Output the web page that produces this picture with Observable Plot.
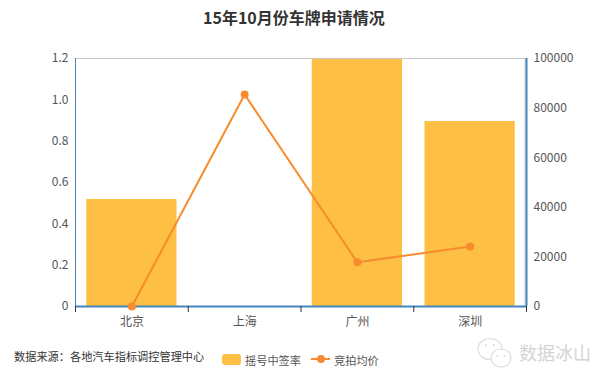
<!DOCTYPE html>
<html><head><meta charset="utf-8">
<script src="https://cdn.jsdelivr.net/npm/d3@7"></script>
<script src="https://cdn.jsdelivr.net/npm/@observablehq/plot@0.6"></script>
<style>
html,body{margin:0;padding:0;background:#fff;width:600px;height:375px;overflow:hidden;font-family:"Noto Sans CJK SC","Noto Sans",sans-serif}
#wrap{position:relative;width:600px;height:375px}
#title{position:absolute;left:203px;top:5px;white-space:nowrap;font-size:16px;line-height:24px;font-weight:700;color:#333}
#chart{position:absolute;left:0;top:40px}
#chart svg{display:block}
.t{position:absolute;white-space:nowrap}
</style></head><body>
<div id="wrap">
<div id="title">15年10月份车牌申请情况</div>
<div id="chart"></div>
<div class="t" style="left:14px;top:348px;font-size:11.2px;line-height:16px;color:#333">数据来源：各地汽车指标调控管理中心</div>
<div class="t" style="left:222px;top:354px;width:19px;height:11px;background:#fdbf44;border-radius:3px"></div>
<div class="t" style="left:245px;top:352px;font-size:11.2px;line-height:16px;color:#555">摇号中签率</div>
<div class="t" style="left:311px;top:358px;width:19px;height:2px;background:#f78b2d"></div>
<div class="t" style="left:316.5px;top:355px;width:8px;height:8px;border-radius:50%;background:#f78b2d"></div>
<div class="t" style="left:334px;top:352px;font-size:11.2px;line-height:16px;color:#555">竞拍均价</div>
<svg class="t" style="left:476px;top:335px" width="40" height="36" viewBox="0 0 40 36">
<ellipse cx="14" cy="14" rx="12" ry="10.5" fill="#fff" stroke="#ddd" stroke-width="1.2"/>
<ellipse cx="25" cy="23" rx="10" ry="9" fill="#fff" stroke="#ddd" stroke-width="1.2"/>
<circle cx="10" cy="10" r="1.1" fill="#ddd"/><circle cx="18" cy="10" r="1.1" fill="#ddd"/>
<circle cx="21.5" cy="21" r="1.1" fill="#ddd"/><circle cx="28.5" cy="21" r="1.1" fill="#ddd"/>
</svg>
<div class="t" style="left:519px;top:340px;font-size:18px;line-height:24px;color:#d4d4d4">数据冰山</div>
</div>
<script>
const categories = ["北京", "上海", "广州", "深圳"];
const lotteryRate = [0.518, 0, 1.195, 0.895];
const avgPrice = [0, 85500, 17800, 24200];
const leftTicks = [0, 0.2, 0.4, 0.6, 0.8, 1.0, 1.2];
const rightTicks = [0, 20000, 40000, 60000, 80000, 100000];

const priceMax = 100000, rateMax = 1.2;
const toRate = p => p / priceMax * rateMax;
const rows = categories.map((c, i) => ({c, rate: lotteryRate[i], price: avgPrice[i]}));
const font = '"Noto Sans CJK SC","Noto Sans",sans-serif';
const step = (526 - 75) / categories.length;

const plot = Plot.plot({
  width: 600, height: 305,
  marginTop: 18, marginBottom: 39, marginLeft: 75, marginRight: 74,
  style: {fontFamily: font, fontSize: "12px", color: "#555", background: "transparent"},
  x: {domain: categories, paddingInner: 0.2, paddingOuter: 0.1, align: 0.5, round: false, label: null},
  y: {domain: [0, rateMax], label: null},
  marks: [
    Plot.barY(rows, {x: "c", y: "rate", fill: "#fdbf44"}),
    Plot.ruleY([rateMax], {stroke: "#c8c8c8", strokeWidth: 1}),
    Plot.ruleX(categories.slice(-1), {x: d => d, dx: step / 2 - 1.5, y1: 0, y2: rateMax, stroke: "#c8c8c8"}),
    Plot.ruleX(categories.slice(0, 1), {x: d => d, dx: -step / 2, y1: 0, y2: rateMax, stroke: "#4682b4", strokeWidth: 1}),
    Plot.ruleX(categories.slice(-1), {x: d => d, dx: step / 2, y1: 0, y2: rateMax, stroke: "#4486bd", strokeWidth: 2}),
    Plot.ruleY([0], {stroke: "#4486bd", strokeWidth: 2}),
    Plot.ruleX(categories, {x: d => d, dx: -step / 2, y1: 0, y2: 0, insetBottom: -6, stroke: "#333"}),
    Plot.ruleX(categories.slice(-1), {x: d => d, dx: step / 2, y1: 0, y2: 0, insetBottom: -6, stroke: "#333"}),
    Plot.axisX({tickSize: 0, tickPadding: 11, label: null, fill: "#555", fontSize: 12}),
    Plot.axisY({ticks: leftTicks, tickSize: 0, tickPadding: 7, label: null, fill: "#555", fontSize: 12,
      tickFormat: d => d === 0 ? "0" : d.toFixed(1)}),
    Plot.axisY({anchor: "right", ticks: rightTicks.map(toRate), tickSize: 0, tickPadding: 7, label: null, fill: "#555", fontSize: 12,
      tickFormat: d => String(Math.round(d / rateMax * priceMax))}),
    Plot.line(rows, {x: "c", y: d => toRate(d.price), stroke: "#f78b2d", strokeWidth: 2}),
    Plot.dot(rows, {x: "c", y: d => toRate(d.price), r: 4, fill: "#f78b2d"})
  ]
});
document.getElementById("chart").appendChild(plot);
</script>
</body></html>
